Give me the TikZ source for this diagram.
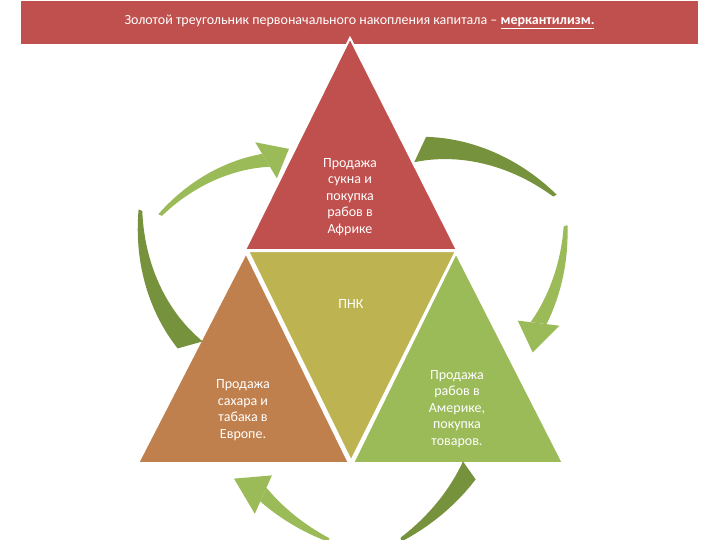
\documentclass[tikz,border=0pt]{standalone}
\usepackage{fontspec}
\setmainfont{Carlito}
\usetikzlibrary{positioning}
\definecolor{barred}{HTML}{C0504D}
\definecolor{triorange}{HTML}{C0804D}
\definecolor{triolive}{HTML}{BDB350}
\definecolor{trigreen}{HTML}{9BBB59}
\definecolor{arrlight}{HTML}{9BBB59}
\definecolor{arrdark}{HTML}{76923C}
\tikzset{tri/.style={draw=white,line width=2pt,line join=miter},
  lbl/.style={text=white,align=center,font=\fontsize{14}{16.5}\selectfont}}
% tapered arc piece: angle a, angle b, radius a, radius b, width a, width b, colour
\newcommand\arcpiece[7]{%
\fill[#7] plot[domain=0:1,samples=40] ({350+(#3+(#4-#3)*\x+(#5+(#6-#5)*\x)/2)*cos(#1+(#2-#1)*\x)},{300-(#3+(#4-#3)*\x+(#5+(#6-#5)*\x)/2)*sin(#1+(#2-#1)*\x)})
  -- plot[domain=1:0,samples=40] ({350+(#3+(#4-#3)*\x-(#5+(#6-#5)*\x)/2)*cos(#1+(#2-#1)*\x)},{300-(#3+(#4-#3)*\x-(#5+(#6-#5)*\x)/2)*sin(#1+(#2-#1)*\x)}) -- cycle;}
% arrow head at angle b, radius rb, colour
\newcommand\arrhead[3]{%
\fill[#3] ({350+(#2+21)*cos(#1)},{300-(#2+21)*sin(#1)}) -- ({350+(#2-21)*cos(#1)},{300-(#2-21)*sin(#1)}) -- ({350+#2*cos(#1-9)},{300-#2*sin(#1-9)}) -- cycle;}
\begin{document}
\begin{tikzpicture}[x=1pt,y=-1pt]
\useasboundingbox (0,0) rectangle (720,540);
\fill[barred] (21,1) rectangle (698,44);
\node[text=white,font=\fontsize{14}{16}\selectfont] (title) at (359.5,22)
  {Золотой треугольник первоначального накопления капитала – \textbf{\underline{меркантилизм.}}};

% triangles
\fill[barred,tri] (350,38) -- (457,250) -- (245,250) -- cycle;
\fill[triorange,tri] (246,253) -- (349,463) -- (138,463) -- cycle;
\fill[triolive,tri] (248,251) -- (456,251) -- (351,461) -- cycle;
\fill[trigreen,tri] (456,253) -- (563,463) -- (353,463) -- cycle;

\node[lbl] (africa) at (350,197) {Продажа\\сукна и\\покупка\\рабов в\\Африке};
\node[lbl] (pnk) at (351,304) {ПНК};
\node[lbl] (europe) at (243,410) {Продажа\\сахара и\\табака в\\Европе.};
\node[lbl] (america) at (457,409) {Продажа\\рабов в\\Америке,\\покупка\\товаров.};

% circular arrows
\arcpiece{195.7}{156.8}{166}{228}{26}{4}{arrdark}
\arcpiece{155.9}{121}{208}{163}{4}{15}{arrlight}
\arrhead{121}{163}{arrlight}
\arcpiece{65}{27}{166}{230}{28}{4}{arrdark}
\arcpiece{19}{-7}{228}{190}{4}{16}{arrlight}
\arrhead{-7}{190}{arrlight}
\arcpiece{-55}{-78}{208}{245}{22}{4}{arrdark}
\arcpiece{-95}{-114}{241}{213}{4}{15}{arrlight}
\arrhead{-114}{213}{arrlight}
\end{tikzpicture}
\end{document}
